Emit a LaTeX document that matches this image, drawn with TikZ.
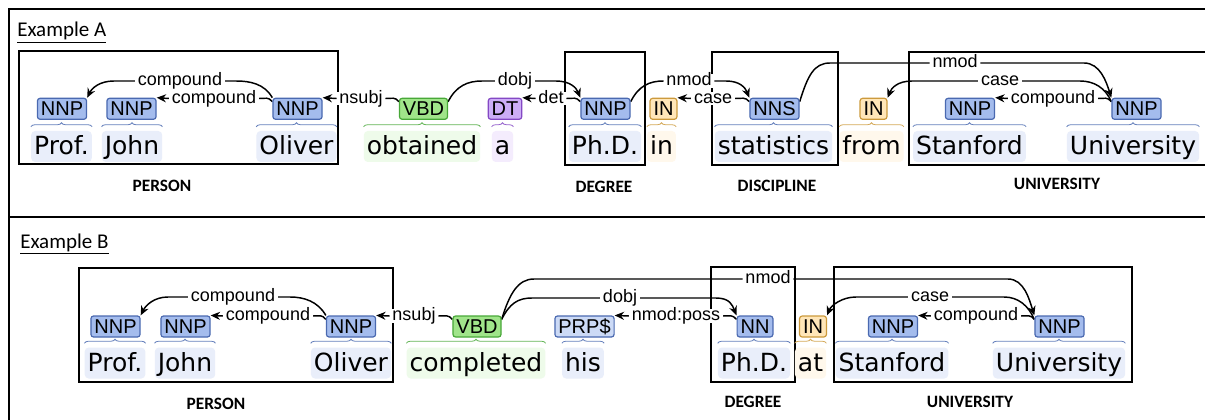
\documentclass[tikz,border=0pt]{standalone}
\usepackage{fontspec}
\usetikzlibrary{arrows.meta,decorations.pathreplacing}
\newfontfamily\wordfont{DejaVu Sans}
\newfontfamily\tagfont{Liberation Sans}
\newfontfamily\calfont{Carlito}
\definecolor{nnpfill}{HTML}{A4BCED}
\definecolor{nnpdraw}{HTML}{4A69B0}
\definecolor{prpfill}{HTML}{CCDAF6}
\definecolor{vbfill}{HTML}{A0E48A}
\definecolor{vbdraw}{HTML}{48A838}
\definecolor{dtfill}{HTML}{CCADF6}
\definecolor{dtdraw}{HTML}{8448C4}
\definecolor{infill}{HTML}{FFE6B8}
\definecolor{indraw}{HTML}{CC9A3C}
\definecolor{nnpbg}{HTML}{E9EEFA}
\definecolor{vbbg}{HTML}{EEFBEA}
\definecolor{dtbg}{HTML}{F4ECFD}
\definecolor{inbg}{HTML}{FFF8EC}
\pgfdeclarelayer{back}
\pgfsetlayers{back,main}
\newcommand\deptoken[8]{%
  \node[#2tag] (#1t) at (#3,#7) {#4};
  \node[#2word] (#1w) at (#5,#8) {#6};
  \draw[#2brace] ([yshift=3pt]#1w.north west) -- ([yshift=3pt]#1w.north east);}
\begin{document}
\begin{tikzpicture}[x=0.75pt,y=-0.75pt,
  tagbox/.style={draw, rounded corners=2pt, line width=0.9pt, minimum height=15.75pt,
    inner xsep=2.6pt, inner ysep=1pt, text height=10.75pt, text depth=0pt,
    font=\tagfont\fontsize{15pt}{16pt}\selectfont},
  nnptag/.style={tagbox, fill=nnpfill, draw=nnpdraw},
  prptag/.style={tagbox, fill=prpfill, draw=nnpdraw},
  vbtag/.style={tagbox, fill=vbfill, draw=vbdraw},
  dttag/.style={tagbox, fill=dtfill, draw=dtdraw},
  intag/.style={tagbox, fill=infill, draw=indraw},
  wordbox/.style={rounded corners=3pt, minimum height=23.25pt, inner xsep=2.25pt,
    inner ysep=0.5pt, text height=16.9pt, text depth=4.2pt,
    font=\wordfont\fontsize{18.75pt}{22pt}\selectfont},
  nnpword/.style={wordbox, fill=nnpbg},
  prpword/.style={wordbox, fill=nnpbg},
  vbword/.style={wordbox, fill=vbbg},
  dtword/.style={wordbox, fill=dtbg},
  inword/.style={wordbox, fill=inbg},
  bracebase/.style={decorate, decoration={brace, amplitude=3pt}, line width=0.6pt},
  nnpbrace/.style={bracebase, draw=nnpdraw!85},
  prpbrace/.style={bracebase, draw=nnpdraw!85},
  vbbrace/.style={bracebase, draw=vbdraw!85},
  dtbrace/.style={bracebase, draw=dtdraw!85},
  inbrace/.style={bracebase, draw=indraw!85},
  deplbl/.style={fill=white, inner xsep=2pt, inner ysep=1.5pt, text height=7pt, text depth=0pt,
    font=\tagfont\fontsize{13.5pt}{15pt}\selectfont},
  deparc/.style={draw=black, line width=1.1pt},
  arrowend/.style={-{Stealth[length=7pt,width=6pt]}},
  entbox/.style={draw=black, line width=1.6pt},
  framebar/.style={draw=black, line width=1.6pt},
  entname/.style={font=\calfont\bfseries\fontsize{13pt}{15pt}\selectfont, text height=8.4pt, text depth=0pt, inner sep=0pt},
  exname/.style={font=\calfont\fontsize{15.75pt}{18pt}\selectfont, inner sep=0pt, anchor=base west}]
\useasboundingbox (0,0) rectangle (1205,420);
\begin{pgfonlayer}{back}
\fill[white] (0,0) rectangle (1205,420);
\end{pgfonlayer}
% outer frame
\draw[framebar] (1215,9) -- (8.7,9) -- (8.7,430);
\draw[framebar] (8.7,217) -- (1215,217);
\node[exname] (exA) at (17,37) {\underline{Example A}};
\node[exname] (exB) at (20,248) {\underline{Example B}};
% ---------------- Example A tokens
\deptoken{a1}{nnp}{62}{NNP}{61.5}{Prof.}{108.8}{146.5}
\deptoken{a2}{nnp}{131.5}{NNP}{132}{John}{108.8}{146.5}
\deptoken{a3}{nnp}{297.5}{NNP}{296.5}{Oliver}{108.8}{146.5}
\deptoken{a4}{vb}{423.5}{VBD}{422}{obtained}{108.8}{146.5}
\deptoken{a5}{dt}{505}{DT}{502.5}{a}{108.8}{146.5}
\deptoken{a6}{nnp}{605.5}{NNP}{605}{Ph.D.}{108.8}{146.5}
\deptoken{a7}{in}{663.5}{IN}{661.5}{in}{108.8}{146.5}
\deptoken{a8}{nnp}{774.5}{NNS}{773.5}{statistics}{108.8}{146.5}
\deptoken{a9}{in}{873.5}{IN}{871.5}{from}{108.8}{146.5}
\deptoken{a10}{nnp}{970}{NNP}{969.5}{Stanford}{108.8}{146.5}
\deptoken{a11}{nnp}{1136.5}{NNP}{1133}{University}{108.8}{146.5}
% ---------------- Example B tokens
\deptoken{b1}{nnp}{115.5}{NNP}{115}{Prof.}{326.5}{363}
\deptoken{b2}{nnp}{185.5}{NNP}{185}{John}{326.5}{363}
\deptoken{b3}{nnp}{351}{NNP}{351}{Oliver}{326.5}{363}
\deptoken{b4}{vb}{477}{VBD}{476}{completed}{326.5}{363}
\deptoken{b5}{prp}{584.5}{PRP\$}{583}{his}{326.5}{363}
\deptoken{b6}{nnp}{755}{NN}{754}{Ph.D.}{326.5}{363}
\deptoken{b7}{in}{813}{IN}{810.5}{at}{326.5}{363}
\deptoken{b8}{nnp}{893}{NNP}{892}{Stanford}{326.5}{363}
\deptoken{b9}{nnp}{1059.5}{NNP}{1059}{University}{326.5}{363}
% ---------------- entity boxes and names
\begin{pgfonlayer}{back}
\draw[entbox] (19,51) rectangle (338,164);
\draw[entbox] (565,52) rectangle (645,165);
\draw[entbox] (712,52) rectangle (838,165);
\draw[entbox] (909,52) rectangle (1220,165);
\draw[entbox] (79,268) rectangle (393,382);
\draw[entbox] (711,267) rectangle (795,382);
\draw[entbox] (834,267) rectangle (1132,382);
\end{pgfonlayer}
\node[entname] (eA1) at (162,186) {PERSON};
\node[entname] (eA2) at (604,187) {DEGREE};
\node[entname] (eA3) at (777,186) {DISCIPLINE};
\node[entname] (eA4) at (1057,184) {UNIVERSITY};
\node[entname] (eB1) at (216,404) {PERSON};
\node[entname] (eB2) at (753,402) {DEGREE};
\node[entname] (eB3) at (970,402) {UNIVERSITY};
% ---------------- arc labels A
\node[deplbl] (lA1) at (180,81) {compound};
\node[deplbl] (lA2) at (214,98.5) {compound};
\node[deplbl] (lA3) at (361,98.5) {nsubj};
\node[deplbl] (lA4) at (515,81) {dobj};
\node[deplbl] (lA5) at (551,98.5) {det};
\node[deplbl] (lA6) at (689,81) {nmod};
\node[deplbl] (lA7) at (713,98.5) {case};
\node[deplbl] (lA8) at (955,63) {nmod};
\node[deplbl] (lA9) at (1000,81) {case};
\node[deplbl] (lA10) at (1053,98.5) {compound};
% ---------------- arc labels B
\node[deplbl] (lB1) at (233,297) {compound};
\node[deplbl] (lB2) at (268,316) {compound};
\node[deplbl] (lB3) at (414,316) {nsubj};
\node[deplbl] (lB4) at (620,298) {dobj};
\node[deplbl] (lB5) at (768,279) {nmod};
\node[deplbl] (lB6) at (676,316) {nmod:poss};
\node[deplbl] (lB7) at (930,297) {case};
\node[deplbl] (lB8) at (976,316) {compound};
% ---------------- arcs
\begin{pgfonlayer}{back}
\draw[deparc] (a3t.north west) .. controls +(-8,-14) and +(14,0) .. (236,81) -- (lA1.east);
\draw[deparc,arrowend] (lA1.west) -- (114,81) .. controls +(-14,0) and +(5,-10) .. (a1t.north east);
\draw[deparc] ([yshift=-3pt]a3t.north west) .. controls +(-4,-5) and +(7,0) .. (lA2.east);
\draw[deparc,arrowend] (lA2.west) -- (a2t.north east);
\draw[deparc] ([yshift=-3pt]a4t.north west) .. controls +(-4,-5) and +(7,0) .. (lA3.east);
\draw[deparc,arrowend] (lA3.west) -- (a3t.north east);
\draw[deparc] ([yshift=-3pt]a4t.north east) .. controls +(8,-16) and +(-14,0) .. (482,81) -- (lA4.west);
\draw[deparc,arrowend] (lA4.east) -- (556,81) .. controls +(14,0) and +(-4,-10) .. (a6t.north west);
\draw[deparc] ([yshift=-3pt]a6t.north west) .. controls +(-4,-5) and +(7,0) .. (lA5.east);
\draw[deparc,arrowend] (lA5.west) -- (a5t.north east);
\draw[deparc] ([yshift=-3pt]a6t.north east) .. controls +(8,-16) and +(-14,0) .. (lA6.west);
\draw[deparc,arrowend] (lA6.east) -- (726,81) .. controls +(14,0) and +(-4,-10) .. (a8t.north west);
\draw[deparc] ([yshift=-3pt]a8t.north west) .. controls +(-4,-5) and +(7,0) .. (lA7.east);
\draw[deparc,arrowend] (lA7.west) -- (a7t.north east);
\draw[deparc] ([yshift=-3pt]a8t.north east) .. controls +(8,-26) and +(-16,0) .. (830,63) -- (lA8.west);
\draw[deparc,arrowend] (lA8.east) -- (1084,63) .. controls +(16,0) and +(-5,-16) .. (a11t.north west);
\draw[deparc] ([yshift=-3pt]a11t.north west) .. controls +(-6,-14) and +(14,0) .. (1080,81) -- (lA9.east);
\draw[deparc,arrowend] (lA9.west) -- (912,81) .. controls +(-14,0) and +(4,-10) .. (a9t.north east);
\draw[deparc] ([yshift=-3pt]a11t.north west) .. controls +(-4,-5) and +(7,0) .. (lA10.east);
\draw[deparc,arrowend] (lA10.west) -- (a10t.north east);
% B
\draw[deparc] (b3t.north west) .. controls +(-8,-14) and +(14,0) .. (290,297) -- (lB1.east);
\draw[deparc,arrowend] (lB1.west) -- (168,297) .. controls +(-14,0) and +(5,-10) .. (b1t.north east);
\draw[deparc] ([yshift=-3pt]b3t.north west) .. controls +(-4,-5) and +(7,0) .. (lB2.east);
\draw[deparc,arrowend] (lB2.west) -- (b2t.north east);
\draw[deparc] ([yshift=-3pt]b4t.north west) .. controls +(-4,-5) and +(7,0) .. (lB3.east);
\draw[deparc,arrowend] (lB3.west) -- (b3t.north east);
\draw[deparc] ([yshift=-3pt]b4t.north east) .. controls +(8,-16) and +(-14,0) .. (532,298) -- (lB4.west);
\draw[deparc,arrowend] (lB4.east) -- (716,298) .. controls +(14,0) and +(-4,-10) .. (b6t.north west);
\draw[deparc] ([yshift=-3pt]b4t.north east) .. controls +(8,-26) and +(-16,0) .. (534,279) -- (lB5.west);
\draw[deparc,arrowend] (lB5.east) -- (1008,279) .. controls +(16,0) and +(-5,-16) .. (b9t.north west);
\draw[deparc] ([yshift=-3pt]b6t.north west) .. controls +(-4,-5) and +(7,0) .. (lB6.east);
\draw[deparc,arrowend] (lB6.west) -- (b5t.north east);
\draw[deparc] ([yshift=-3pt]b9t.north west) .. controls +(-6,-14) and +(14,0) .. (1004,297) -- (lB7.east);
\draw[deparc,arrowend] (lB7.west) -- (856,297) .. controls +(-14,0) and +(4,-10) .. (b7t.north east);
\draw[deparc] ([yshift=-3pt]b9t.north west) .. controls +(-4,-5) and +(7,0) .. (lB8.east);
\draw[deparc,arrowend] (lB8.west) -- (b8t.north east);
\end{pgfonlayer}
\end{tikzpicture}
\end{document}
